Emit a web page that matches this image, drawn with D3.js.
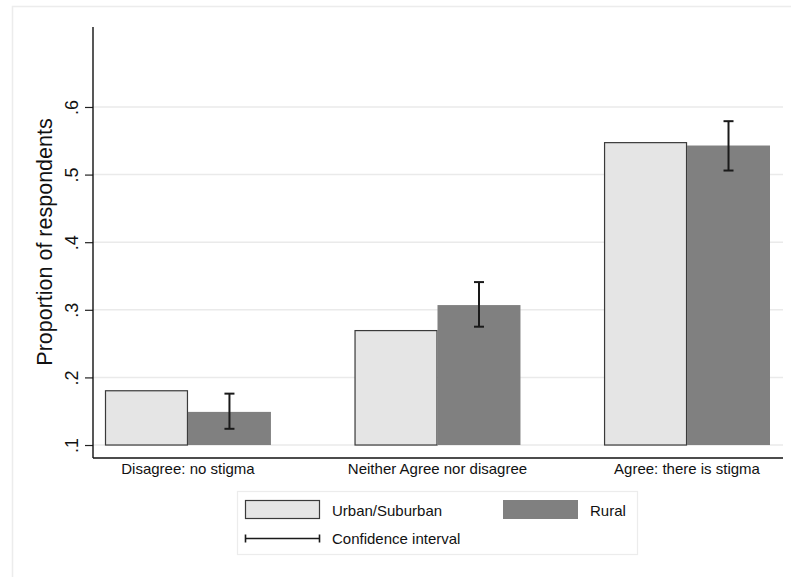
<!DOCTYPE html>
<html><head><meta charset="utf-8">
<script src="https://cdn.jsdelivr.net/npm/d3@7"></script>
<style>body{margin:0;background:#fff}svg{display:block;font-family:"Liberation Sans",Arial,Helvetica,sans-serif}</style>
</head><body><svg id="c" width="791" height="577"></svg>
<script>
const categories = ["Disagree: no stigma", "Neither Agree nor disagree", "Agree: there is stigma"];
const seriesNames = ["Urban/Suburban", "Rural"];
const urban = [0.181, 0.270, 0.548];
const rural = [0.149, 0.307, 0.543];
const ruralCILow = [0.124, 0.275, 0.506];
const ruralCIHigh = [0.176, 0.341, 0.579];
const yTicks = [0.1, 0.2, 0.3, 0.4, 0.5, 0.6];
const yTickLabels = [".1", ".2", ".3", ".4", ".5", ".6"];
const colors = ["#e5e5e5", "#808080"];

const svg = d3.select("#c");
// outer frame
svg.append("rect").attr("x",12.5).attr("y",6.5).attr("width",820).attr("height",620)
  .attr("fill","none").attr("stroke","#ececec").attr("stroke-width",1.5);

const plotL = 93, plotR = 783, plotT = 27, plotB = 458;
const y = d3.scaleLinear().domain([0.0808, 0.7183]).range([plotB, plotT]);
const x = d3.scaleBand().domain(categories).range([105, 770]).paddingInner(0.335).paddingOuter(0);
const xs = d3.scaleBand().domain(seriesNames).range([0, x.bandwidth()]).padding(0);

// gridlines
svg.append("g").selectAll("line").data(yTicks).join("line")
  .attr("x1", plotL).attr("x2", plotR)
  .attr("y1", d => y(d)).attr("y2", d => y(d))
  .attr("stroke", "#eaeaea").attr("stroke-width", 1.5);

const data = [];
categories.forEach((c,i) => {
  data.push({c, s: seriesNames[0], v: urban[i]});
  data.push({c, s: seriesNames[1], v: rural[i]});
});
svg.append("g").selectAll("rect").data(data).join("rect")
  .attr("x", d => x(d.c) + xs(d.s) + (d.s===seriesNames[0]?0.5:0))
  .attr("width", d => xs.bandwidth() - (d.s===seriesNames[0]?1:0))
  .attr("y", d => y(d.v) + (d.s===seriesNames[0]?0.5:0))
  .attr("height", d => y(0.1) - y(d.v) - (d.s===seriesNames[0]?0.5:0))
  .attr("fill", d => d.s===seriesNames[0] ? colors[0] : colors[1])
  .attr("stroke", d => d.s===seriesNames[0] ? "#3a3a3a" : "none")
  .attr("stroke-width", 1.2);

// error bars (rural)
const eg = svg.append("g").attr("stroke","#1a1a1a").attr("stroke-width",2);
categories.forEach((c,i) => {
  const cx = x(c) + xs(seriesNames[1]) + xs.bandwidth()/2;
  eg.append("line").attr("x1",cx).attr("x2",cx).attr("y1",y(ruralCILow[i])).attr("y2",y(ruralCIHigh[i]));
  [ruralCILow[i], ruralCIHigh[i]].forEach(v => {
    eg.append("line").attr("x1",cx-5).attr("x2",cx+5).attr("y1",y(v)).attr("y2",y(v));
  });
});

// axes
const yAxis = d3.axisLeft(y).tickValues(yTicks).tickFormat((d,i)=>yTickLabels[i]).tickSize(8).tickSizeOuter(0);
const yg = svg.append("g").attr("transform",`translate(${plotL},0)`).call(yAxis)
  .attr("font-size", null).attr("font-family", null);
yg.select(".domain").remove();
yg.selectAll(".tick line").attr("stroke","#222").attr("stroke-width",1.2);
yg.selectAll(".tick text")
  .attr("x",null).attr("dy","0")
  .attr("transform",`translate(-15,0) rotate(-90)`)
  .attr("text-anchor","middle")
  .attr("fill","#111")
  .style("font-size","18px")
  .style("font-family","'Liberation Sans', Arial, sans-serif");
svg.append("line").attr("x1",plotL).attr("x2",plotL).attr("y1",plotT).attr("y2",plotB).attr("stroke","#111").attr("stroke-width",1.4);
svg.append("line").attr("x1",plotL).attr("x2",plotR).attr("y1",plotB).attr("y2",plotB).attr("stroke","#111").attr("stroke-width",1.4);

// category labels
svg.append("g").selectAll("text").data(categories).join("text")
  .attr("x", d => x(d) + x.bandwidth()/2).attr("y", 474)
  .attr("text-anchor","middle").attr("font-size",15).attr("fill","#111").text(d=>d);

// y title
svg.append("text").attr("transform","translate(52,242) rotate(-90)")
  .attr("text-anchor","middle").attr("font-size",21.5).attr("fill","#111").text("Proportion of respondents");

// legend
const lg = svg.append("g");
lg.append("rect").attr("x",237.5).attr("y",491.5).attr("width",400).attr("height",63)
  .attr("fill","#fff").attr("stroke","#ececec").attr("stroke-width",1.2);
lg.append("rect").attr("x",245.5).attr("y",500.5).attr("width",74).attr("height",18)
  .attr("fill",colors[0]).attr("stroke","#3a3a3a").attr("stroke-width",1.2);
lg.append("text").attr("x",332).attr("y",516).attr("font-size",15).attr("fill","#111").text(seriesNames[0]);
lg.append("rect").attr("x",503).attr("y",500).attr("width",75).attr("height",19).attr("fill",colors[1]);
lg.append("text").attr("x",590).attr("y",516).attr("font-size",15).attr("fill","#111").text(seriesNames[1]);
const ly = 538.5;
lg.append("line").attr("x1",245).attr("x2",320).attr("y1",ly).attr("y2",ly).attr("stroke","#1a1a1a").attr("stroke-width",1.6);
lg.append("line").attr("x1",245.5).attr("x2",245.5).attr("y1",ly-4).attr("y2",ly+4).attr("stroke","#1a1a1a").attr("stroke-width",1.6);
lg.append("line").attr("x1",319.5).attr("x2",319.5).attr("y1",ly-4).attr("y2",ly+4).attr("stroke","#1a1a1a").attr("stroke-width",1.6);
lg.append("text").attr("x",332).attr("y",544).attr("font-size",15).attr("fill","#111").text("Confidence interval");
</script></body></html>
